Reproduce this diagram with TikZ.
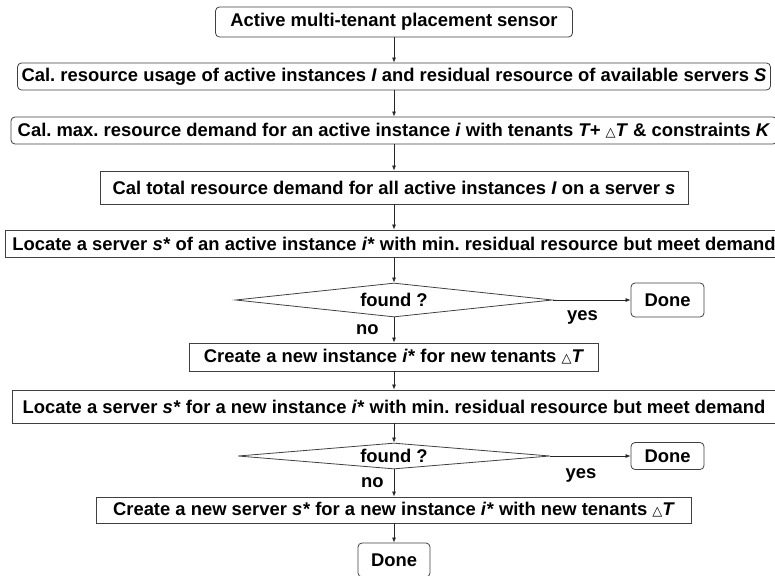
\documentclass[tikz,border=0pt]{standalone}
\usepackage{fontspec}
\setmainfont{Liberation Sans}
\newfontfamily\symfont{DejaVu Sans}
\usetikzlibrary{shapes.geometric,arrows.meta}
\frenchspacing
\newcommand{\dT}{{\symfont\fontsize{13}{13}\selectfont △}\textit{T}}
\begin{document}
\begin{tikzpicture}[x=1pt,y=1pt,>={Latex[length=5pt,width=4pt]},
  box/.style={draw=black!75,line width=0.8pt,inner sep=0pt,font=\fontsize{18.4}{22}\selectfont\bfseries},
  round box/.style={box,rounded corners=4pt},
  test/.style={box,diamond,shape aspect=9},
  lab/.style={font=\fontsize{18.4}{22}\selectfont\bfseries,inner sep=0pt}]
\useasboundingbox (0,0) rectangle (775,-575);
\begin{scope}
\node[round box,minimum width=357,minimum height=30] (sensor) at (394,-22) {Active multi-tenant placement sensor};%1
\node[round box,minimum width=753,minimum height=27] (usage) at (394,-76.5) {Cal. resource usage of active instances \textit{I} and residual resource of available servers \textit{S}};%2
\node[round box,minimum width=766,minimum height=27] (maxdem) at (394,-130.5) {Cal. max. resource demand for an active instance \textit{i} with tenants \textit{T+} \dT{} \& constraints \textit{K}};%3
\node[box,minimum width=588,minimum height=33] (total) at (394,-187.5) {Cal total resource demand for all active instances \textit{I} on a server \textit{s}};%4
\node[box,minimum width=778,minimum height=27] (loc1) at (394,-243.5) {Locate a server \textit{s*} of an active instance \textit{i*} with min. residual resource but meet demand};%5
\node[test,minimum width=317,minimum height=34] (found1) at (394,-300) {found ?};%6
\node[round box,minimum width=73,minimum height=34] (done1) at (667.5,-300) {Done};
\node[box,minimum width=409,minimum height=28] (newinst) at (394,-357) {Create a new instance \textit{i*} for new tenants \dT};%7
\node[box,minimum width=764,minimum height=33] (loc2) at (394,-406.5) {Locate a server \textit{s*} for a new instance \textit{i*} with min. residual resource but meet demand};%8
\node[test,minimum width=312,minimum height=26] (found2) at (394,-456) {found ?};%9
\node[round box,minimum width=73,minimum height=27] (done2) at (667.5,-456) {Done};
\node[box,minimum width=595,minimum height=26] (newsrv) at (394,-510) {Create a new server \textit{s*} for a new instance \textit{i*} with new tenants \dT};%10
\node[round box,minimum width=72,minimum height=34] (done3) at (394,-560) {Done};
\end{scope}
\begin{scope}[every edge/.style={draw=black!85,line width=0.7pt,->}]
\draw (sensor) edge (usage);
\draw (usage) edge (maxdem);
\draw (maxdem) edge (total);
\draw (total) edge (loc1);
\draw (loc1) edge (found1);
\draw (found1) edge node[lab,below=10pt,pos=0.38] {yes} (done1);
\draw (found1) edge node[lab,left=15pt] {no} (newinst);
\draw (newinst) edge (loc2);
\draw (loc2) edge (found2);
\draw (found2) edge node[lab,below=12pt,pos=0.38] {yes} (done2);
\draw (found2) edge node[lab,left=10pt] {no} (newsrv);
\draw (newsrv) edge (done3);
\end{scope}
\end{tikzpicture}
\end{document}
